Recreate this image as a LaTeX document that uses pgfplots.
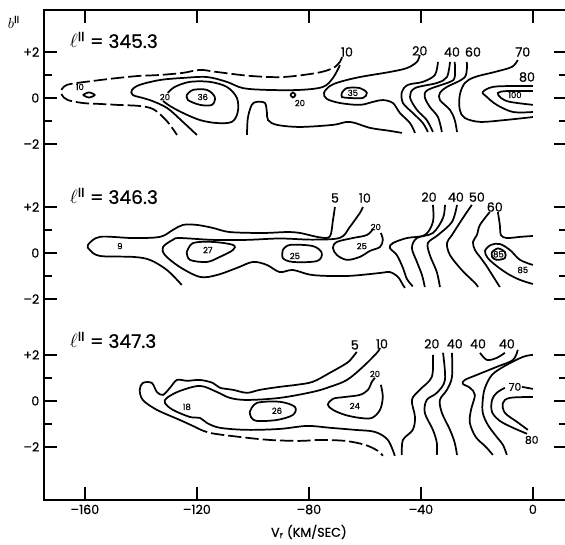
\documentclass[border=0pt]{standalone}
\usepackage{fontspec}
\setmainfont{Poppins}[FakeBold=0.7]
\usepackage{pgfplots}
\pgfplotsset{compat=1.18}

\pgfplotsset{
  cl/.style={black, line width=1.3pt, smooth, tension=0.55},
  dsh/.style={dash pattern=on 10pt off 3pt},
  p2/.style={y filter/.expression={y-6.74}},
  p3/.style={y filter/.expression={y-13.17}},
}
\tikzset{
  big/.style={font=\fontsize{9.5}{10}\selectfont},
  mid/.style={font=\fontsize{8}{9}\selectfont},
  sml/.style={font=\fontsize{6.3}{7}\selectfont},
}

\begin{document}
\begin{tikzpicture}
\useasboundingbox (-33pt,-33pt) rectangle (390.75pt,375pt);
\begin{axis}[
    at={(0,0)}, anchor=south west,
    x=2.1pt, y=17.25pt,
    xmin=-174.6, xmax=12.1, ymin=-17.48, ymax=3.83,
    clip=false,
    axis line style={line width=1.2pt},
    tick align=inside,
    xtick pos=both, ytick pos=both,
    xticklabel pos=lower, yticklabel pos=left,
    xtick={-160,-120,-80,-40,0},
    xticklabels={–160,–120,–80,–40,0},
    ytick={2,0,-2,-4.74,-6.74,-8.74,-11.17,-13.17,-15.17},
    yticklabels={+2,0,–2,+2,0,–2,+2,0,–2},
    minor ytick={1,-1,-5.74,-7.74,-12.17,-14.17},
    major tick length=9.5pt, minor tick length=6pt,
    every tick/.append style={black, line width=1.2pt},
    tick label style={font=\fontsize{9.5}{10}\selectfont},
]

% ---- panel 1 : l = 345.3
\addplot[cl, dsh] coordinates {(-68.2,1.78) (-68.9,1.57) (-71.4,1.30) (-77.1,1.09) (-89.3,0.91) (-101.1,0.96) (-112.9,1.13) (-118.9,1.22) (-125,1.09) (-133.2,1.0) (-140.4,0.96) (-145,0.91) (-151.1,0.83) (-157.1,0.74) (-162.9,0.65) (-166.4,0.57) (-168.2,0.39) (-168.2,0.13) (-166.1,-0.09) (-160.7,-0.22) (-154.6,-0.26) (-148.6,-0.30) (-140.4,-0.35) (-135.7,-0.48) (-132.1,-0.83) (-129.6,-1.17) (-127.1,-1.61)};
\addplot[cl] coordinates {(-68.9,1.43) (-71.4,0.87) (-75,0.48) (-83.2,0.35) (-95,0.35) (-103.6,0.43) (-109.3,0.70) (-116.4,0.91) (-125,0.87) (-133.2,0.78) (-140.4,0.57) (-143.2,0.35) (-142.9,0.13) (-139.3,0) (-136.8,-0.09) (-130.7,-0.43) (-125,-1.04) (-120,-1.61)};
\addplot[cl] coordinates {(-130.4,0.22) (-127.9,0.48) (-122.5,0.70) (-115.4,0.70) (-109.3,0.48) (-105.7,0) (-105.4,-0.61) (-107.5,-1.04) (-112.9,-1.09) (-118.9,-0.96) (-125,-0.65) (-129.6,-0.35) (-132.1,-0.13)};
\addplot[cl] coordinates {(-123.6,0.13) (-121.4,0.35) (-116.4,0.35) (-113.6,0.04) (-114.6,-0.30) (-118.9,-0.30) (-123.2,-0.09) (-123.6,0.13)};
\addplot[cl] coordinates {(-102.1,-1.61) (-101.8,-0.87) (-100.4,-0.30) (-98.6,-0.17) (-95.7,-0.22) (-95,-0.61) (-94.6,-0.96) (-91.4,-1.17) (-83.2,-1.26) (-71.4,-1.17) (-65.4,-1.04) (-58.2,-1.30) (-51.1,-1.43) (-46.8,-1.52)};
\addplot[cl] coordinates {(-40.4,1.87) (-41.4,1.57) (-45,1.30) (-51.1,1.13) (-61.8,0.91) (-68.9,0.70) (-72.5,0.52) (-74.6,0.22) (-73.6,-0.04) (-68.9,-0.22) (-61.8,-0.30) (-57.1,-0.17) (-53.6,-0.09) (-50,-0.22) (-47.5,-0.65) (-43.9,-1.09) (-42.1,-1.52)};
\addplot[cl] coordinates {(-68.2,0.22) (-66.4,0.43) (-61.8,0.43) (-59.3,0.22) (-60.7,0) (-65.4,0) (-68.2,0.04) (-68.2,0.22)};
\addplot[cl] coordinates {(-86.6,0.13) (-85.7,0.24) (-84.8,0.13) (-85.7,0.02) (-86.6,0.13)};
\addplot[cl] coordinates {(-160.7,0.13) (-158.6,0.24) (-156.5,0.13) (-158.6,0.02) (-160.7,0.13)};
\addplot[cl] coordinates {(-33.9,1.57) (-35,1.0) (-39.3,0.70) (-44.6,0.57) (-46.8,0.26) (-46.4,-0.22) (-42.9,-0.65) (-39.3,-1.09) (-37.5,-1.48)};
\addplot[cl] coordinates {(-29.6,1.57) (-30.7,0.91) (-34.3,0.65) (-42.1,0.43) (-43.9,0.04) (-41.4,-0.52) (-37.9,-0.96) (-35.7,-1.48)};
\addplot[cl] coordinates {(-27.9,1.57) (-27.9,0.91) (-29.6,0.70) (-37.5,0.35) (-38.6,0.04) (-36.8,-0.39) (-33.9,-0.83) (-32.5,-1.48)};
\addplot[cl] coordinates {(-23.6,1.57) (-24.3,0.91) (-30.7,0.48) (-33.2,0.22) (-33.2,-0.09) (-29.6,-0.52) (-27.9,-0.96) (-27.1,-1.48)};
\addplot[cl] coordinates {(-5.4,1.65) (-7.5,1.35) (-13.6,1.13) (-20.7,0.91) (-24.3,0.65) (-26.1,0.13) (-26.1,-0.52) (-24.3,-0.87) (-18.9,-1.04) (-10,-0.96) (0,-0.83)};
\addplot[cl] coordinates {(0,0.52) (-7.1,0.52) (-14.3,0.48) (-17.9,0.26) (-16.4,0.04) (-12.9,-0.30) (-7.1,-0.61) (0,-0.61)};
\addplot[cl] coordinates {(0,0.30) (-9.3,0.30) (-12.5,0.22) (-11.4,0.0) (-8.2,-0.17) (0,-0.30)};

% ---- panel 2 : l = 346.3
\addplot[cl, p2] coordinates {(-70.7,2.0) (-71.4,1.43) (-72.5,0.72) (-76.1,0.68) (-83.2,0.87) (-87.9,0.91) (-96.4,0.87) (-108.2,0.91) (-114.3,1.09) (-120,1.22) (-125,1.22) (-128.6,1.0) (-133.2,0.70) (-142.9,0.65) (-154.6,0.70) (-158.9,0.35) (-158.2,0.13) (-154.6,-0.13) (-142.9,-0.17) (-136.8,-0.30) (-130.7,-0.74) (-125.4,-1.39)};
\addplot[cl, p2] coordinates {(-60.7,2.0) (-61.8,1.74) (-65.4,1.13) (-68.9,0.66) (-78.6,0.58) (-90.4,0.63) (-102.1,0.57) (-114.3,0.57) (-126.1,0.65) (-128.6,0.57) (-132.1,0.26) (-131.4,-0.09) (-126.1,-0.61) (-118.9,-1.04) (-112.9,-0.96) (-105.7,-0.65) (-100,-0.39) (-95,-0.52) (-90.4,-0.83) (-85.7,-0.74) (-78.6,-0.96) (-66.4,-1.0) (-54.6,-0.87) (-51.1,-0.83) (-48.2,-1.04) (-46.4,-1.39) (-45.7,-1.52)};
\addplot[cl, p2] coordinates {(-123.6,0.04) (-121.4,0.43) (-114.3,0.48) (-107.1,0.35) (-107.1,0.13) (-111.8,-0.17) (-116.4,-0.39) (-122.5,-0.30) (-123.6,0.04)};
\addplot[cl, p2] coordinates {(-89.3,0.13) (-86.8,0.35) (-78.6,0.30) (-75.4,0) (-77.1,-0.35) (-85.7,-0.39) (-89.3,-0.22) (-89.3,0.13)};
\addplot[cl, p2] coordinates {(-57.1,1.04) (-59.3,0.78) (-64.3,0.65) (-70,0.48) (-71.4,0.22) (-70,-0.09) (-66.4,-0.30) (-61.8,-0.17) (-58.2,0.09) (-54.6,0.26) (-53.6,0.57) (-54.3,0.87)};
\addplot[cl, p2] coordinates {(-35.7,2.09) (-35.7,1.35) (-38.6,0.78) (-45,0.65) (-50,0.43) (-51.1,0.22) (-48.6,-0.09) (-46.4,-0.65) (-45,-1.13) (-42.9,-1.45)};
\addplot[cl, p2] coordinates {(-31.4,2.09) (-32.1,1.52) (-35.7,0.87) (-41.4,0.65) (-43.2,0.22) (-41.4,-0.39) (-39.6,-0.96) (-38.6,-1.48)};
\addplot[cl, p2] coordinates {(-27.1,2.09) (-28.9,1.35) (-33.9,0.78) (-37.5,0.43) (-36.8,-0.09) (-34.3,-0.83) (-33.2,-1.48)};
\addplot[cl, p2] coordinates {(-21.8,2.09) (-25,1.52) (-28.9,0.78) (-30.7,0.43) (-29.6,-0.09) (-25.4,-0.74) (-20.7,-1.30) (-19.6,-1.48)};
\addplot[cl, p2] coordinates {(-15.4,1.78) (-18.9,1.22) (-20,0.78) (-21.4,0.48) (-20.7,0.13) (-18.9,-0.17) (-16.8,-0.52) (-14.3,-1.0) (-11.8,-1.48)};
\addplot[cl, p2] coordinates {(-12.5,1.78) (-11.8,1.22) (-11.4,0.78) (-9.3,0.65) (-4.6,0.70) (0,0.74)};
\addplot[cl, p2] coordinates {(-14.6,0.04) (-12.5,0.20) (-10,0.04) (-10,-0.22) (-12.9,-0.30) (-14.6,-0.17) (-14.6,0.04)};
\addplot[cl, p2] coordinates {(0,-0.52) (-4.6,-0.30) (-8.2,0.13) (-11.8,0.39) (-15,0.35) (-17.1,0.09) (-16.1,-0.22) (-12.9,-0.57) (-8.9,-0.91) (-4.6,-1.17) (0,-1.35)};

% ---- panel 3 : l = 347.3
\addplot[cl, p3] coordinates {(-62.9,2.13) (-64.3,1.91) (-66.4,1.65) (-72.5,1.22) (-78.6,0.83) (-84.3,0.70) (-90.4,0.61) (-97.5,0.48) (-102.1,0.35) (-107.1,0.48) (-111.8,0.57) (-114.3,0.78) (-118.9,0.91) (-123.6,0.87) (-127.1,0.91) (-129.6,0.57) (-132.1,0.26) (-134.3,0.39) (-136.1,0.78) (-139.3,0.78) (-140.4,0.48) (-139.3,0.04) (-134.3,-0.39) (-126.1,-0.83) (-120.7,-1.13)};
\addplot[cl, p3, dsh] coordinates {(-120.7,-1.13) (-115.4,-1.39) (-104.6,-1.57) (-93.9,-1.70) (-83.2,-1.74) (-76.1,-1.70) (-67.1,-1.74) (-60,-1.91) (-55.4,-2.17) (-53.6,-2.39)};
\addplot[cl, p3] coordinates {(-54.6,2.30) (-55.7,2.09) (-60.7,1.48) (-66.4,0.91) (-72.5,0.61) (-78.6,0.39) (-90.4,0.13) (-102.1,0.04) (-108.2,0.13) (-112.9,0.39) (-118.9,0.65) (-126.1,0.43) (-130.7,0.13) (-131.4,-0.09) (-128.6,-0.39) (-122.5,-0.70) (-118.9,-0.74) (-116.4,-0.96) (-111.8,-1.17) (-102.1,-1.26) (-90.4,-1.22) (-80.7,-1.09) (-72.5,-1.17) (-63.6,-1.26) (-56.4,-1.35) (-51.8,-1.70) (-49.3,-2.39)};
\addplot[cl, p3] coordinates {(-101.1,-0.48) (-98.6,-0.09) (-90.4,-0.04) (-85,-0.26) (-85.7,-0.61) (-91.4,-0.83) (-98.6,-0.87) (-100.7,-0.70) (-101.1,-0.48)};
\addplot[cl, p3] coordinates {(-56.4,1.0) (-57.5,0.83) (-58.9,0.48) (-61.8,0.26) (-67.1,0.17) (-71.4,0.09) (-73.2,-0.17) (-71.4,-0.39) (-67.1,-0.61) (-61.8,-0.74) (-57.5,-0.74) (-54.6,-0.39) (-53.6,0.17) (-54.3,0.70)};
\addplot[cl, p3] coordinates {(-35.7,2.0) (-36.1,1.04) (-40.4,0.48) (-43.2,0.04) (-42.1,-0.70) (-42.9,-1.26) (-46.4,-1.70) (-46.8,-2.35)};
\addplot[cl, p3] coordinates {(-32.1,2.09) (-31.4,0.91) (-34.3,0.35) (-37.9,0.04) (-38.6,-0.52) (-35.7,-1.26) (-34.3,-1.83) (-34.3,-2.35)};
\addplot[cl, p3] coordinates {(-28.9,2.09) (-28.9,1.04) (-30.7,0.48) (-33.2,0.04) (-32.5,-0.52) (-29.6,-1.26) (-27.9,-1.83) (-27.1,-2.35)};
\addplot[cl, p3] coordinates {(-18.9,2.09) (-16.4,1.78) (-12.9,1.87) (-10,2.09)};
\addplot[cl, p3] coordinates {(-5.4,2.22) (-7.1,1.78) (-12.9,1.48) (-20,1.13) (-24.3,0.91) (-25,0.74) (-22.5,0.57) (-20.7,0.26) (-22.1,-0.39) (-22.5,-0.96) (-20.4,-1.57) (-16.8,-2.0) (-14.3,-2.35)};
\addplot[cl, p3] coordinates {(0,2.0) (-3.6,1.91) (-10,1.52) (-14.6,1.13) (-17.1,0.57) (-17.9,0.04) (-17.9,-0.52) (-16.1,-1.04) (-12.9,-1.57) (-10.7,-1.91) (-9.3,-2.35)};
\addplot[cl, p3] coordinates {(-10,0.57) (-12.9,0.35) (-14.6,0.04) (-14.6,-0.48) (-11.8,-0.87) (-7.1,-1.17) (-2.1,-1.43)};
\addplot[cl, p3] coordinates {(-3.9,0.61) (0,0.52)};
\addplot[cl, p3] coordinates {(0,0.17) (-8.2,0.13) (-10.7,-0.09) (-10,-0.52) (-5.7,-0.91) (-1.8,-1.26)};

% ---- labels
\node[font=\fontsize{11}{12}\selectfont] at (axis cs:-185.4,3.30) {$b^{\mathrm{II}}$};
\node[anchor=west, font=\fontsize{14}{16}\selectfont] at (axis cs:-167,2.52) {$\ell^{\mathrm{II}}$ = 345.3};
\node[anchor=west, font=\fontsize{14}{16}\selectfont] at (axis cs:-167,-4.26) {$\ell^{\mathrm{II}}$ = 346.3};
\node[anchor=west, font=\fontsize{14}{16}\selectfont] at (axis cs:-167,-10.52) {$\ell^{\mathrm{II}}$ = 347.3};
\node[font=\fontsize{9.5}{10}\selectfont] at (axis cs:-80,-18.87) {V\textsubscript{r} (KM/SEC)};

\node[big] at (axis cs:-66.4,2.0) {10};
\node[big] at (axis cs:-40.4,2.05) {20};
\node[big] at (axis cs:-28.9,2.0) {40};
\node[big] at (axis cs:-21.4,2.0) {60};
\node[big] at (axis cs:-3.6,2.0) {70};
\node[big] at (axis cs:-2.1,0.91) {80};
\node[sml] at (axis cs:-6.4,0.13) {100};
\node[sml] at (axis cs:-117.9,0.04) {36};
\node[sml] at (axis cs:-64.3,0.22) {35};
\node[sml] at (axis cs:-131.4,0.04) {20};
\node[sml] at (axis cs:-83.2,-0.22) {20};
\node[sml] at (axis cs:-161.8,0.48) {10};

\node[big] at (axis cs:-70.7,-4.35) {5};
\node[big] at (axis cs:-60,-4.35) {10};
\node[sml] at (axis cs:-56.1,-5.61) {20};
\node[sml] at (axis cs:-61.1,-6.44) {25};
\node[sml] at (axis cs:-116.1,-6.61) {27};
\node[sml] at (axis cs:-85,-6.87) {25};
\node[sml] at (axis cs:-147.5,-6.44) {9};
\node[big] at (axis cs:-37.1,-4.31) {20};
\node[big] at (axis cs:-27.5,-4.31) {40};
\node[big] at (axis cs:-20,-4.31) {50};
\node[big] at (axis cs:-13.6,-4.74) {60};
\node[sml] at (axis cs:-12.3,-6.80) {85};
\node[sml] at (axis cs:-3.6,-7.48) {85};

\node[big] at (axis cs:-63.6,-10.74) {5};
\node[big] at (axis cs:-53.9,-10.69) {10};
\node[big] at (axis cs:-36.1,-10.69) {20};
\node[big] at (axis cs:-27.9,-10.69) {40};
\node[big] at (axis cs:-19.6,-10.69) {40};
\node[big] at (axis cs:-9.3,-10.69) {40};
\node[sml] at (axis cs:-56.4,-12.0) {20};
\node[sml] at (axis cs:-63.6,-13.39) {24};
\node[sml] at (axis cs:-123.6,-13.43) {18};
\node[sml] at (axis cs:-91.4,-13.6) {26};
\node[mid] at (axis cs:-6.4,-12.56) {70};
\node[mid] at (axis cs:-0.4,-14.87) {80};
\end{axis}
\end{tikzpicture}
\end{document}
